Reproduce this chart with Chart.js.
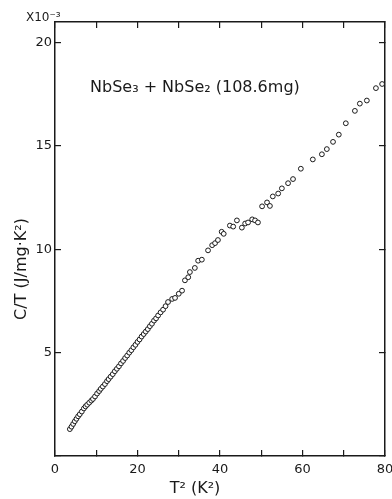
<!DOCTYPE html>
<html>
<head>
<meta charset="utf-8">
<script src="https://cdn.jsdelivr.net/npm/chart.js@4/dist/chart.umd.min.js"></script>
<style>
  html, body { margin: 0; padding: 0; background: #fff; }
  #wrap { width: 392px; height: 499px; }
</style>
</head>
<body>
<div id="wrap"><canvas id="chart" width="392" height="499"></canvas></div>
<script>
// T^2 (K^2) and C/T (x10^-3 J/mg.K^2)
const t2Values = [
  3.6, 4.0, 4.4, 4.8, 5.2, 5.6, 6.0, 6.5, 7.0, 7.4, 7.8, 8.3, 8.8, 9.2, 9.7,
  10.2, 10.7, 11.1, 11.6, 12.1, 12.6, 13.0, 13.5, 14.0, 14.5, 15.0, 15.5, 16.0,
  16.5, 17.0, 17.5, 18.0, 18.5, 19.0, 19.5, 20.0, 20.5, 21.0, 21.5, 22.0, 22.5,
  23.0, 23.5, 24.0, 24.5, 25.0, 25.6, 26.2, 26.8, 27.4, 28.4, 29.1, 30.0, 30.8,
  31.5, 32.3, 32.7, 33.9, 34.7, 35.6, 37.1, 38.1, 38.8, 39.5, 40.4, 40.9, 42.4,
  43.2, 44.1, 45.3, 46.1, 46.8, 47.8, 48.5, 49.2, 50.2, 51.4, 52.1, 52.8, 54.1,
  55.0, 56.5, 57.7, 59.6, 62.5, 64.7, 65.9, 67.4, 68.8, 70.5, 72.7, 73.9, 75.6,
  77.8, 79.3
];
const ctValues = [
  1.30, 1.42, 1.55, 1.68, 1.80, 1.92, 2.02, 2.15, 2.30, 2.40, 2.48, 2.58, 2.68, 2.76, 2.88,
  3.02, 3.14, 3.25, 3.36, 3.48, 3.62, 3.72, 3.84, 3.96, 4.10, 4.22, 4.34, 4.48,
  4.60, 4.74, 4.86, 5.00, 5.12, 5.26, 5.38, 5.52, 5.64, 5.78, 5.90, 6.02, 6.14,
  6.28, 6.40, 6.55, 6.66, 6.80, 6.95, 7.08, 7.25, 7.45, 7.60, 7.65, 7.85, 8.00,
  8.50, 8.65, 8.90, 9.10, 9.45, 9.50, 9.95, 10.20, 10.30, 10.45, 10.85, 10.75, 11.15,
  11.10, 11.40, 11.05, 11.25, 11.30, 11.45, 11.40, 11.30, 12.08, 12.27, 12.10, 12.56, 12.70,
  12.95, 13.20, 13.40, 13.90, 14.35, 14.60, 14.85, 15.20, 15.55, 16.10, 16.70, 17.05, 17.20,
  17.80, 18.00
];
const xTickValues = [0, 10, 20, 30, 40, 50, 60, 70, 80];
const xTickLabels = ['0', '', '20', '', '40', '', '60', '', '80'];
const yTickValues = [0, 5, 10, 15, 20];
const yTickLabels = ['', '5', '10', '15', '20'];

const FONT = "'DejaVu Sans', sans-serif";
const INK = '#1a1a1a';

function fixTicks(values) {
  return function(scale) {
    scale.ticks = values.map(v => ({ value: v }));
  };
}

function axis(position, min, max, values, labels, size) {
  return {
    type: 'linear',
    position: position,
    min: min,
    max: max,
    afterBuildTicks: fixTicks(values),
    afterFit: function(scale) {
      if (position === 'top' || position === 'bottom') scale.height = size;
      else scale.width = size;
      scale.paddingLeft = 0;
      scale.paddingRight = 0;
      scale.paddingTop = 0;
      scale.paddingBottom = 0;
    },
    grid: { drawOnChartArea: false, drawTicks: true, tickLength: -6, color: INK, lineWidth: 1.2 },
    border: { display: true, color: INK, width: 1.5 },
    ticks: {
      padding: position === 'bottom' ? 12 : 9,
      color: INK,
      font: { family: FONT, size: 13 },
      autoSkip: false,
      maxRotation: 0,
      callback: function(value, index) {
        return labels ? labels[index] : '';
      }
    }
  };
}

const textPlugin = {
  id: 'texts',
  afterDraw(chart) {
    const ctx = chart.ctx;
    ctx.save();
    ctx.fillStyle = INK;
    ctx.textBaseline = 'middle';

    ctx.font = '12px ' + FONT;
    ctx.textAlign = 'left';
    ctx.fillText('X10⁻³', 26, 18);

    ctx.font = '16px ' + FONT;
    ctx.fillText('NbSe₃ + NbSe₂ (108.6mg)', 90, 88);

    ctx.font = '16px ' + FONT;
    ctx.textAlign = 'center';
    ctx.fillText('T² (K²)', 195, 489);

    ctx.translate(22, 269);
    ctx.rotate(-Math.PI / 2);
    ctx.fillText('C/T (J/mg·K²)', 0, 0);
    ctx.restore();
  }
};

new Chart(document.getElementById('chart'), {
  type: 'scatter',
  data: {
    datasets: [{
      data: t2Values.map((x, i) => ({ x: x, y: ctValues[i] })),
      pointStyle: 'circle',
      pointRadius: 2.4,
      pointBorderWidth: 1,
      pointBorderColor: INK,
      pointBackgroundColor: '#fff',
      showLine: false
    }]
  },
  options: {
    responsive: false,
    animation: false,
    devicePixelRatio: 1,
    layout: { padding: 0 },
    plugins: { legend: { display: false }, tooltip: { enabled: false } },
    scales: {
      x: axis('bottom', 0, 80, xTickValues, xTickLabels, 43),
      x2: axis('top', 0, 80, xTickValues, null, 22),
      y: axis('left', 0, 21, yTickValues, yTickLabels, 55),
      y2: axis('right', 0, 21, yTickValues, null, 7)
    }
  },
  plugins: [textPlugin]
});
</script>
</body>
</html>
